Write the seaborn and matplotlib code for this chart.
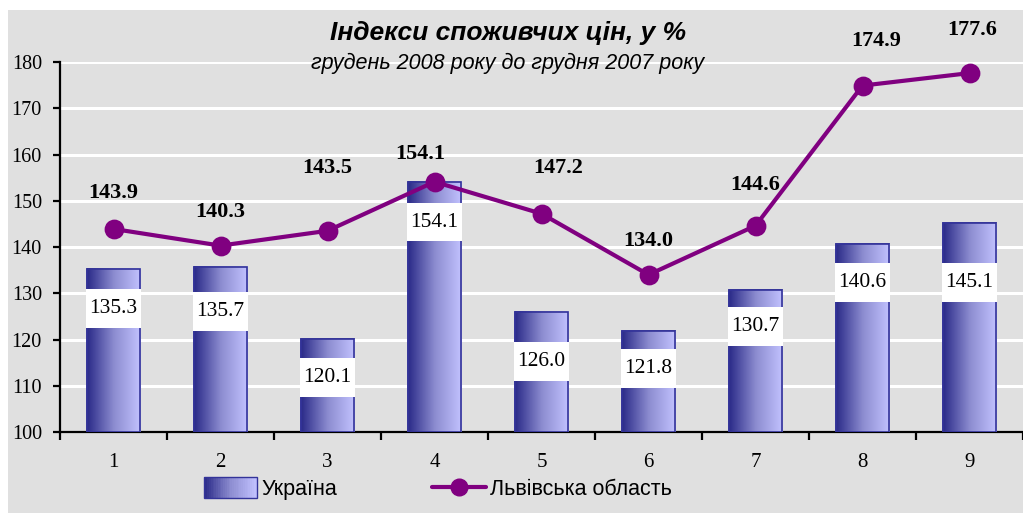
import numpy as np
import pandas as pd
import matplotlib
matplotlib.use('Agg')
import matplotlib.pyplot as plt
import seaborn as sns
from matplotlib.patches import Rectangle
from matplotlib.lines import Line2D
from matplotlib.colors import LinearSegmentedColormap
from matplotlib.legend_handler import HandlerBase

# Données
months = ['1', '2', '3', '4', '5', '6', '7', '8', '9']
ukraine = [135.3, 135.7, 120.1, 154.1, 126.0, 121.8, 130.7, 140.6, 145.1]
lviv = [143.9, 140.3, 143.5, 154.1, 147.2, 134.0, 144.6, 174.9, 177.6]
title = 'Індекси споживчих цін, у %'
subtitle = 'грудень 2008 року до грудня 2007 року'
label_ukraine = 'Україна'
label_lviv = 'Львівська область'

# Style (positions des étiquettes)
bar_label_drop = [8.6, 9.7, 8.4, 8.7, 10.8, 8.0, 7.8, 8.2, 12.8]
line_label_offsets = [(0, 26), (0, 24), (0, 45), (-10, 20), (12, 33),
                      (0, 24), (0, 29), (10, 32), (2, 31)]

BG = '#E0E0E0'
PURPLE = '#800080'
grad_cmap = LinearSegmentedColormap.from_list('grad', ['#2A2A88', '#8C8CD0', '#C2C2FF'])
SERIF = ['Liberation Serif', 'DejaVu Serif']
SANS = ['Liberation Sans', 'DejaVu Sans']
YMIN, YMAX = 100, 180

df = pd.DataFrame({'month': months, 'ukraine': ukraine, 'lviv': lviv})

sns.set_style('white')
plt.rcParams['font.family'] = SANS
plt.rcParams['text.color'] = 'black'
plt.rcParams['xtick.color'] = 'black'
plt.rcParams['ytick.color'] = 'black'

fig = plt.figure(figsize=(10.23, 5.13), dpi=100)
fig.patch.set_facecolor('white')
fig.patches.append(Rectangle((8 / 1023, 0), 1 - 8 / 1023, 503 / 513,
                             transform=fig.transFigure, facecolor=BG,
                             edgecolor='none', zorder=-10))

ax = fig.add_axes([60 / 1023, 81 / 513, 963 / 1023, 370 / 513])
ax.set_facecolor('none')

sns.barplot(data=df, x='month', y='ukraine', order=months, width=0.5,
            color='#6666CC', edgecolor='#333399', linewidth=1.2, ax=ax,
            zorder=3)

# Dégradé horizontal dans les barres
gradient = np.linspace(0, 1, 256).reshape(1, -1)
for patch in list(ax.patches):
    x0, w = patch.get_x(), patch.get_width()
    top = patch.get_y() + patch.get_height()
    ax.imshow(gradient, cmap=grad_cmap, aspect='auto',
              extent=[x0, x0 + w, YMIN, top], zorder=3.5)
    ax.add_patch(Rectangle((x0, YMIN), w, top - YMIN, facecolor='none',
                           edgecolor='#333399', linewidth=1.2, zorder=3.6))

sns.pointplot(data=df, x='month', y='lviv', order=months, color=PURPLE,
              markers='o', markersize=12, linewidth=3, ax=ax, zorder=5)
for coll in ax.collections:
    coll.set_zorder(6)
for ln in ax.lines:
    ln.set_zorder(5)

ax.set_xlim(-0.5, 8.5)
ax.set_ylim(YMIN, YMAX)

# Étiquettes des barres
for i, v in enumerate(ukraine):
    yc = v - bar_label_drop[i]
    ax.add_patch(Rectangle((i - 0.255, yc - 4.2), 0.51, 8.4,
                           facecolor='white', edgecolor='none', zorder=7))
    ax.text(i, yc, f'{v:.1f}', ha='center', va='center', fontsize=15.5,
            family=SERIF, zorder=8)

# Étiquettes de la ligne
for i, v in enumerate(lviv):
    ax.annotate(f'{v:.1f}', (i, v), xytext=line_label_offsets[i],
                textcoords='offset points', ha='center', va='center',
                fontsize=16, fontweight='bold', family=SERIF,
                annotation_clip=False, zorder=8)

# Axes
ax.set_yticks(range(YMIN, YMAX + 1, 10))
ax.set_xticks(range(len(months)))
ax.set_xticklabels(months)
ax.grid(axis='y', color='white', linewidth=2.2, zorder=0)
ax.grid(axis='x', visible=False)
ax.set_axisbelow(True)
for side in ['top', 'right']:
    ax.spines[side].set_visible(False)
for side in ['left', 'bottom']:
    ax.spines[side].set_color('black')
    ax.spines[side].set_linewidth(1.6)
ax.set_xlabel('')
ax.set_ylabel('')
ax.tick_params(axis='y', which='major', length=5, width=1.6, color='black',
               left=True, labelsize=14.5, pad=8)
ax.tick_params(axis='x', which='major', length=0, labelsize=15, pad=15)
ax.set_xticks(np.arange(-0.5, 9, 1), minor=True)
ax.tick_params(axis='x', which='minor', length=6, width=1.6, color='black',
               bottom=True)
for lab in ax.get_xticklabels() + ax.get_yticklabels():
    lab.set_family(SERIF)
    lab.set_color('black')

# Titres
fig.text(508 / 1023, 1 - 33 / 513, title, ha='center', va='center',
         fontsize=19, fontweight='bold', fontstyle='italic')
fig.text(508 / 1023, 1 - 63 / 513, subtitle, ha='center', va='center',
         fontsize=15.5, fontstyle='italic')


# Légende avec dégradé
class GradientHandler(HandlerBase):
    def create_artists(self, legend, orig_handle, xdescent, ydescent,
                       width, height, fontsize, trans):
        n = 30
        arts = []
        for k in range(n):
            r = Rectangle((xdescent + width * k / n, ydescent - 2), width / n + 0.3,
                          height + 4, facecolor=grad_cmap(k / (n - 1)),
                          edgecolor='none', transform=trans)
            arts.append(r)
        arts.append(Rectangle((xdescent, ydescent - 2), width, height + 4,
                              facecolor='none', edgecolor='#333399',
                              linewidth=1.0, transform=trans))
        return arts


bar_handle = Rectangle((0, 0), 1, 1)
line_handle = Line2D([], [], color=PURPLE, linewidth=3, marker='o', markersize=12)
fig.legend([bar_handle, line_handle], [label_ukraine, label_lviv],
           handler_map={Rectangle: GradientHandler()},
           loc='lower center', bbox_to_anchor=(0.428, -0.012), ncol=2,
           frameon=False, fontsize=15.5, handlelength=2.5, handletextpad=0.2,
           columnspacing=4.4)

fig.savefig('out.png', dpi=100, facecolor=fig.get_facecolor())
